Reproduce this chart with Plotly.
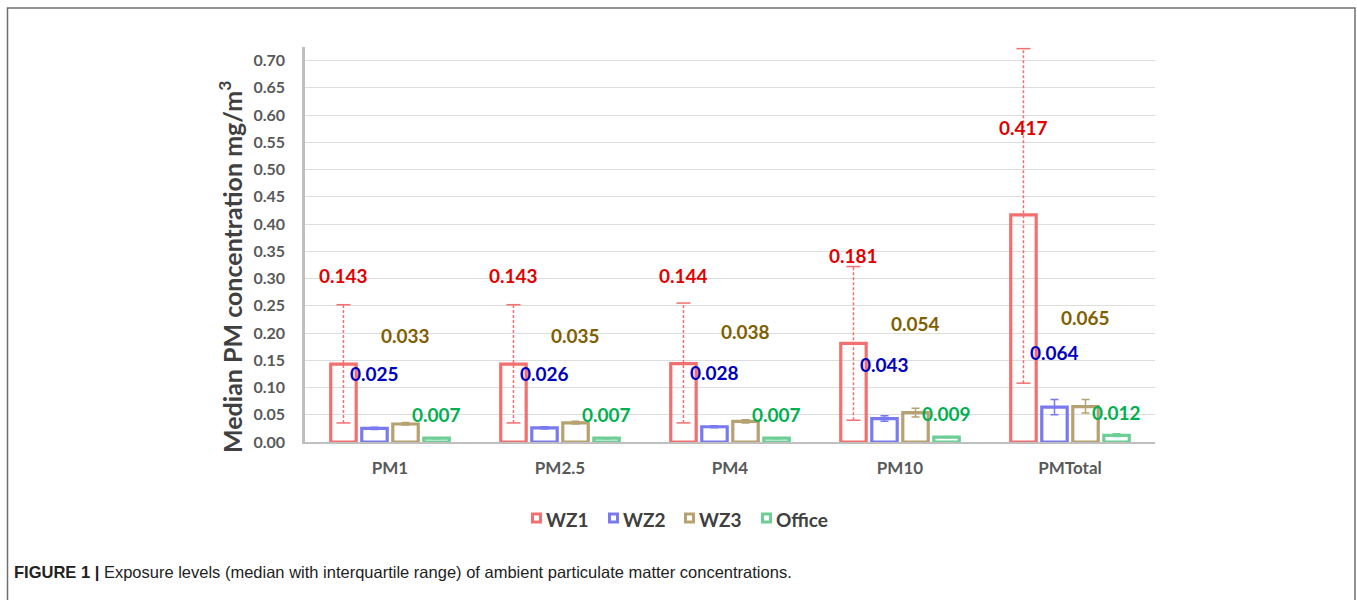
import plotly.graph_objects as go

# ---------------- data ----------------
categories = ["PM1", "PM2.5", "PM4", "PM10", "PMTotal"]
series_names = ["WZ1", "WZ2", "WZ3", "Office"]

wz1_median = [0.143, 0.143, 0.144, 0.181, 0.417]
wz1_q1 = [0.035, 0.035, 0.035, 0.040, 0.108]
wz1_q3 = [0.252, 0.252, 0.255, 0.322, 0.722]

wz2_median = [0.025, 0.026, 0.028, 0.043, 0.064]
wz2_q1 = [0.023, 0.024, 0.026, 0.038, 0.050]
wz2_q3 = [0.027, 0.028, 0.030, 0.048, 0.078]

wz3_median = [0.033, 0.035, 0.038, 0.054, 0.065]
wz3_q1 = [0.031, 0.033, 0.035, 0.046, 0.053]
wz3_q3 = [0.036, 0.038, 0.041, 0.062, 0.078]

office_median = [0.007, 0.007, 0.007, 0.009, 0.012]
office_q1 = [0.006, 0.006, 0.006, 0.008, 0.010]
office_q3 = [0.008, 0.008, 0.008, 0.010, 0.015]

y_tick_values = [round(0.05 * i, 2) for i in range(15)]
y_tick_labels = [f"{v:.2f}" for v in y_tick_values]

# label heights (where the value labels sit, in axis units)
wz1_label_y = [0.306, 0.306, 0.306, 0.343, 0.578]
wz2_label_y = [0.125, 0.125, 0.127, 0.143, 0.164]
wz3_label_y = [0.196, 0.196, 0.202, 0.217, 0.229]
office_label_y = [0.050, 0.050, 0.050, 0.053, 0.054]

# ---------------- styles ----------------
bar_colors = ["rgb(242,112,112)", "rgb(122,122,240)", "rgb(182,162,112)", "rgb(110,206,150)"]
label_colors = ["#E00000", "#0000C0", "#7F6000", "#00B050"]
FONT = "Lato"

W, H = 1357, 600
ML, MR, MT, MB = 305, 202, 47, 158
BARGAP = 0.27
BARGROUPGAP = 0.18
YMAX = 0.725

# legend layout (pixel positions of each legend symbol's left edge)
legend_symbol_left_px = [531, 608, 684, 761]
legend_center_y_px = 518

medians = [wz1_median, wz2_median, wz3_median, office_median]
q1s = [wz1_q1, wz2_q1, wz3_q1, office_q1]
q3s = [wz1_q3, wz2_q3, wz3_q3, office_q3]
label_ys = [wz1_label_y, wz2_label_y, wz3_label_y, office_label_y]

xs = list(range(len(categories)))
n = len(series_names)
slot = (1 - BARGAP) / n


def offset(k):
    return -(1 - BARGAP) / 2 + (k + 0.5) * slot


fig = go.Figure()
for k in range(n):
    err = None
    if k > 0:
        err = dict(type="data", symmetric=False,
                   array=[h - m for h, m in zip(q3s[k], medians[k])],
                   arrayminus=[m - l for m, l in zip(medians[k], q1s[k])],
                   color=bar_colors[k], thickness=1.5, width=4)
    fig.add_trace(go.Bar(
        x=xs, y=medians[k], name=series_names[k],
        marker=dict(color="rgba(255,255,255,0)", line=dict(color=bar_colors[k], width=3.2)),
        error_y=err, hoverinfo="y",
    ))

# WZ1 dashed interquartile lines with caps
ex, ey = [], []
for i in xs:
    ex += [i + offset(0), i + offset(0), None]
    ey += [wz1_q1[i], wz1_q3[i], None]
fig.add_trace(go.Scatter(x=ex, y=ey, mode="lines", showlegend=False, hoverinfo="skip",
                         line=dict(color=bar_colors[0], width=1.5, dash="3px,2px")))
fig.add_trace(go.Scatter(x=[i + offset(0) for i in xs] * 2, y=wz1_q1 + wz1_q3,
                         mode="markers", showlegend=False, hoverinfo="skip",
                         marker=dict(symbol="line-ew-open", size=10, color=bar_colors[0],
                                     line=dict(color=bar_colors[0], width=1.5))))

# value labels
for k in range(n):
    for i in xs:
        fig.add_annotation(x=i + offset(k), y=label_ys[k][i], xref="x", yref="y",
                           text=f"{medians[k][i]:.3f}", showarrow=False,
                           font=dict(family=FONT, size=19, color=label_colors[k], weight="bold"))

pw = W - ML - MR
ph = H - MT - MB


def px_x(p):
    return (p - ML) / pw


def px_y(p):
    return (H - MB - p) / ph


# y title
fig.add_annotation(xref="paper", yref="paper", x=px_x(230), y=px_y(267),
                   text="Median PM concentration mg/m<sup>3</sup>", textangle=-90,
                   showarrow=False, xanchor="center", yanchor="middle",
                   font=dict(family=FONT, size=25, color="#404040", weight="bold"))

# legend (drawn manually for compact spacing)
for k in range(n):
    left = legend_symbol_left_px[k]
    fig.add_shape(type="rect", xref="paper", yref="paper",
                  x0=px_x(left + 1.5), x1=px_x(left + 9.5),
                  y0=px_y(legend_center_y_px + 4), y1=px_y(legend_center_y_px - 4),
                  line=dict(color=bar_colors[k], width=3), fillcolor="white")
    fig.add_annotation(xref="paper", yref="paper", x=px_x(left + 13),
                       y=px_y(legend_center_y_px + 1), xanchor="left", yanchor="middle",
                       text=series_names[k], showarrow=False,
                       font=dict(family=FONT, size=19, color="#404040", weight="bold"))

# caption
fig.add_annotation(xref="paper", yref="paper", x=px_x(12), y=px_y(572),
                   xanchor="left", yanchor="middle", showarrow=False,
                   text="<b>FIGURE 1 |</b> Exposure levels (median with interquartile range) of ambient particulate matter concentrations.",
                   font=dict(family="Liberation Sans", size=16.5, color="#222222"))

# frame
fig.add_shape(type="rect", xref="paper", yref="paper",
              x0=px_x(7.5), x1=px_x(1355), y0=px_y(640), y1=px_y(8),
              line=dict(color="#6f6f6f", width=1.5), fillcolor="rgba(0,0,0,0)", layer="below")

fig.update_layout(
    width=W, height=H,
    margin=dict(l=ML, r=MR, t=MT, b=MB),
    paper_bgcolor="white", plot_bgcolor="white",
    barmode="group", bargap=BARGAP, bargroupgap=BARGROUPGAP,
    showlegend=False,
    xaxis=dict(range=[-0.5, len(categories) - 0.5], tickmode="array", tickvals=xs,
               ticktext=categories, showgrid=False, zeroline=False,
               showline=True, linecolor="#BFBFBF", linewidth=2, ticks="",
               ticklabelstandoff=10,
               tickfont=dict(family=FONT, size=17, color="#595959", weight="bold")),
    yaxis=dict(range=[0, YMAX], tickmode="array", tickvals=y_tick_values, ticktext=y_tick_labels,
               showgrid=True, gridcolor="#DDDDDD", gridwidth=1, zeroline=False,
               showline=True, linecolor="#BFBFBF", linewidth=2.5, ticks="",
               ticklabelstandoff=14,
               tickfont=dict(family=FONT, size=16, color="#595959", weight="bold")),
)

fig.write_html("out.html", post_script="document.body.style.margin='0';",
               config={"displayModeBar": False})
